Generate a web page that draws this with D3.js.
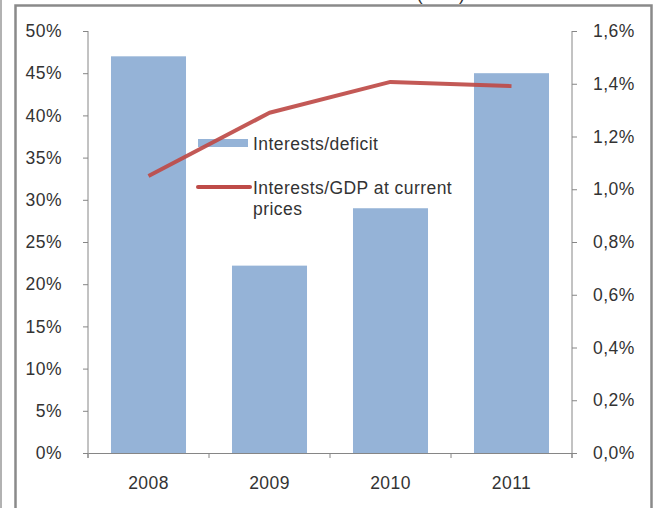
<!DOCTYPE html>
<html><head><meta charset="utf-8">
<script src="https://cdn.jsdelivr.net/npm/d3@7/dist/d3.min.js"></script>
<style>
body{margin:0;background:#fff;}
svg{display:block;font-family:"Liberation Sans",Arial,sans-serif;}
text{letter-spacing:0.45px;}
</style></head>
<body>
<svg id="c" width="658" height="508"></svg>
<script>
const years = ["2008","2009","2010","2011"];
const interestsDeficit = [0.47, 0.222, 0.29, 0.45];
const interestsGDP = [0.0105, 0.0129, 0.01407, 0.01391];
const leftTicks = [0,0.05,0.10,0.15,0.20,0.25,0.30,0.35,0.40,0.45,0.50];
const rightTicks = [0,0.002,0.004,0.006,0.008,0.010,0.012,0.014,0.016];
const seriesNames = ["Interests/deficit","Interests/GDP at current prices"];

const svg = d3.select("#c");
const FS = 17.5, TXT = "#333333", AX = "#868686";
const L = 88, R = 572, T = 31, B = 453;

// thin line at far left and frame
svg.append("line").attr("x1",1).attr("x2",1).attr("y1",0).attr("y2",508).attr("stroke","#999").attr("stroke-width",1.5);
svg.append("rect").attr("x",15.5).attr("y",5.5).attr("width",636).attr("height",520)
  .attr("fill","none").attr("stroke","#8a8a8a").attr("stroke-width",2.5);
// cut-off title fragment
svg.append("text").attr("x",441).attr("y",0).attr("text-anchor","middle")
  .attr("font-size",FS).attr("fill",TXT).text("(in %)");

const x = d3.scaleBand().domain(years).range([L,R]).paddingInner(0.38).paddingOuter(0.19);
const yL = d3.scaleLinear().domain([0,0.5]).range([B,T]);
const yR = d3.scaleLinear().domain([0,0.016]).range([B,T]);

// bars
svg.append("g").selectAll("rect").data(years).join("rect")
  .attr("x",d=>x(d)).attr("width",x.bandwidth())
  .attr("y",(d,i)=>yL(interestsDeficit[i]))
  .attr("height",(d,i)=>B-yL(interestsDeficit[i]))
  .attr("fill","#95b3d7");

// left axis
const gL = svg.append("g").attr("transform",`translate(${L},0)`)
  .call(d3.axisLeft(yL).tickValues(leftTicks).tickSize(5).tickPadding(21)
    .tickFormat(d=>Math.round(d*100)+"%"));
// right axis
const gR = svg.append("g").attr("transform",`translate(${R},0)`)
  .call(d3.axisRight(yR).tickValues(rightTicks).tickSize(5).tickPadding(16)
    .tickFormat(d=>(d*100).toFixed(1).replace(".",",")+"%"));
[gL,gR].forEach(g=>{
  g.selectAll(".tick line").attr("stroke",AX);
  g.selectAll("text").attr("font-size",FS).attr("fill",TXT).attr("font-family","Liberation Sans, Arial, sans-serif");
});
gL.select(".domain").remove();
gR.select(".domain").remove();
svg.append("line").attr("x1",L).attr("x2",L).attr("y1",T).attr("y2",B+5).attr("stroke",AX);
svg.append("line").attr("x1",R).attr("x2",R).attr("y1",T).attr("y2",B+5).attr("stroke",AX);

// x axis
const gX = svg.append("g").attr("transform",`translate(0,${B})`)
  .call(d3.axisBottom(x).tickSize(0).tickPadding(24));
gX.select(".domain").attr("stroke",AX);
gX.selectAll("text").attr("font-size",FS).attr("fill",TXT).attr("font-family","Liberation Sans, Arial, sans-serif");
const bounds = years.map(d=>x(d)-x.step()*x.paddingInner()/2).concat([R]);
svg.append("g").selectAll("line").data(bounds).join("line")
  .attr("x1",d=>d).attr("x2",d=>d).attr("y1",B).attr("y2",B+5).attr("stroke",AX);

// legend
svg.append("rect").attr("x",198).attr("y",139).attr("width",50).attr("height",8).attr("fill","#95b3d7");
svg.append("text").attr("x",253).attr("y",150).attr("font-size",FS).attr("fill",TXT).text(seriesNames[0]);
svg.append("line").attr("x1",198).attr("x2",250).attr("y1",187).attr("y2",187)
  .attr("stroke","#be4b48").attr("stroke-width",4).attr("stroke-linecap","round");
const lt = svg.append("text").attr("x",253).attr("y",194).attr("font-size",FS).attr("fill",TXT);
lt.append("tspan").attr("x",253).text("Interests/GDP at current");
lt.append("tspan").attr("x",253).attr("dy",21).text("prices");

// line
const line = d3.line().x((d,i)=>x(years[i])+x.bandwidth()/2).y(d=>yR(d));
svg.append("path").datum(interestsGDP).attr("d",line).attr("fill","none")
  .attr("stroke","#be4b48").attr("stroke-width",4).attr("stroke-opacity",0.92).attr("stroke-linejoin","round");
</script>
</body></html>
